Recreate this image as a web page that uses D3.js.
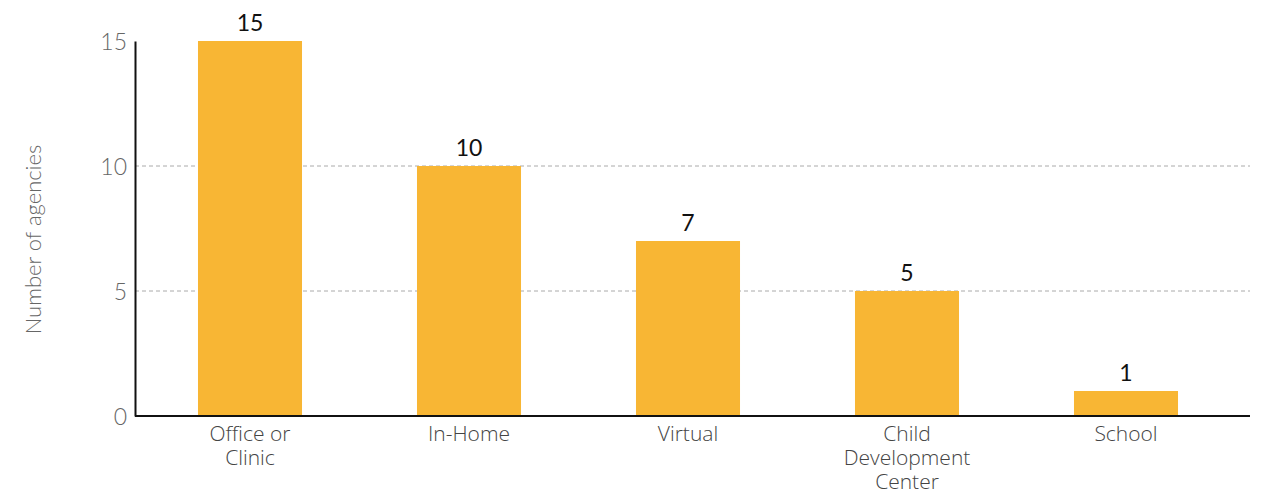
<!DOCTYPE html>
<html>
<head>
<meta charset="utf-8">
<script src="https://cdn.jsdelivr.net/npm/d3@7"></script>
<style>
  html, body { margin: 0; padding: 0; background: #fff; }
  svg { display: block; }
</style>
</head>
<body>
<svg id="chart" width="1271" height="491"></svg>
<script>
// Service settings and the number of agencies using each
const categories = [["Office or", "Clinic"], ["In-Home"], ["Virtual"], ["Child", "Development", "Center"], ["School"]];
const values = [15, 10, 7, 5, 1];
const yTicks = [0, 5, 10, 15];
const gridTicks = [5, 10];
const yTitle = "Number of agencies";

const W = 1271, H = 491;
const margin = { top: 41, right: 21, bottom: 75, left: 135 };
const innerW = W - margin.left - margin.right;
const innerH = H - margin.top - margin.bottom;

const svg = d3.select("#chart");
const g = svg.append("g").attr("transform", `translate(${margin.left},${margin.top})`);

const labels = categories.map(c => c.join(" "));
const x = d3.scaleBand()
  .domain(labels)
  .range([5.5, innerW - 14.5])
  .paddingInner(0.525)
  .paddingOuter(0.2625);

const y = d3.scaleLinear().domain([0, 15]).range([innerH, 0]);

// dashed gridlines
g.selectAll("line.grid")
  .data(gridTicks)
  .join("line")
  .attr("class", "grid")
  .attr("x1", 0).attr("x2", innerW)
  .attr("y1", d => y(d)).attr("y2", d => y(d))
  .attr("stroke", "#aaa")
  .attr("stroke-width", 1)
  .attr("stroke-dasharray", "4,3");

// bars
g.selectAll("rect.bar")
  .data(values)
  .join("rect")
  .attr("class", "bar")
  .attr("x", (d, i) => x(labels[i]))
  .attr("width", x.bandwidth())
  .attr("y", d => y(d))
  .attr("height", d => y(0) - y(d))
  .attr("fill", "#F8B634");

// value labels
g.selectAll("text.val")
  .data(values)
  .join("text")
  .attr("class", "val")
  .attr("x", (d, i) => x(labels[i]) + x.bandwidth() / 2)
  .attr("y", d => y(d) - 10)
  .attr("text-anchor", "middle")
  .attr("font-family", "Lato, sans-serif")
  .attr("font-weight", 400)
  .attr("font-size", 23)
  .attr("fill", "#111")
  .text(d => d);

// y axis
const yAxis = d3.axisLeft(y).tickValues(yTicks).tickSize(0).tickPadding(8);
const ya = g.append("g").call(yAxis);
ya.select(".domain").attr("stroke", "#111").attr("stroke-width", 2);
ya.selectAll("text")
  .attr("font-family", "Lato, sans-serif")
  .attr("font-weight", 300)
  .attr("font-size", 23)
  .attr("dy", "0.36em")
  .attr("fill", "#666");

// x axis
const xAxis = d3.axisBottom(x).tickSize(0).tickPadding(0).tickFormat(() => "");
const xa = g.append("g").attr("transform", `translate(0,${innerH})`).call(xAxis);
xa.select(".domain").attr("d", `M0,0H${innerW}`).attr("stroke", "#111").attr("stroke-width", 2);
xa.selectAll(".tick text").remove();
xa.selectAll(".tick").each(function(d, i) {
  const t = d3.select(this).append("text")
    .attr("text-anchor", "middle")
    .attr("font-family", "'Open Sans', sans-serif")
    .attr("font-weight", 300)
    .attr("font-size", 21)
    .attr("fill", "#444");
  categories[i].forEach((line, k) => {
    t.append("tspan").attr("x", 0).attr("y", 25 + k * 24).text(line);
  });
});

// y axis title
svg.append("text")
  .attr("transform", `translate(41,${margin.top + innerH / 2 + 11}) rotate(-90)`)
  .attr("text-anchor", "middle")
  .attr("font-family", "Lato, sans-serif")
  .attr("font-weight", 300)
  .attr("font-size", 22)
  .attr("fill", "#666")
  .text(yTitle);
</script>
</body>
</html>
